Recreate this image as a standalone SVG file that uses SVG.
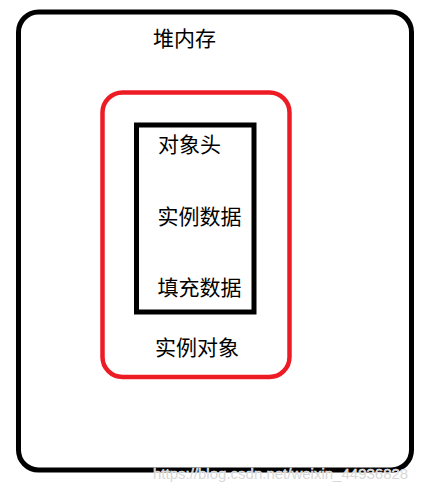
<svg xmlns="http://www.w3.org/2000/svg" width="435" height="493" viewBox="0 0 435 493">
<style>
.t{font-family:"Noto Sans CJK SC","Microsoft YaHei",sans-serif;font-size:21px;fill:#000}
.wm{font-family:"Liberation Sans",Arial,sans-serif;font-size:15px;fill:#d8d8d8;stroke:#ffffff;stroke-width:0.6;paint-order:stroke}
</style>
<rect width="435" height="493" fill="#ffffff"/>
<g id="heap">
<rect x="18.5" y="12" width="393" height="458" rx="20" ry="20" fill="none" stroke="#000" stroke-width="5"/>
<text class="t" x="153" y="46">堆内存</text>
</g>
<g id="instance">
<rect x="102.5" y="92.5" width="187" height="284.5" rx="20" ry="20" fill="none" stroke="#ed1c24" stroke-width="4.5"/>
<text class="t" x="155" y="355">实例对象</text>
</g>
<g id="object">
<rect x="136.5" y="125" width="117.5" height="187" fill="none" stroke="#000" stroke-width="5"/>
<text class="t" x="158" y="152">对象头</text>
<text class="t" x="157.5" y="224">实例数据</text>
<text class="t" x="157.5" y="295">填充数据</text>
</g>
<g id="connectors"></g>
<text class="wm" x="153" y="479">https://blog.csdn.net/weixin_44936828</text>
</svg>
